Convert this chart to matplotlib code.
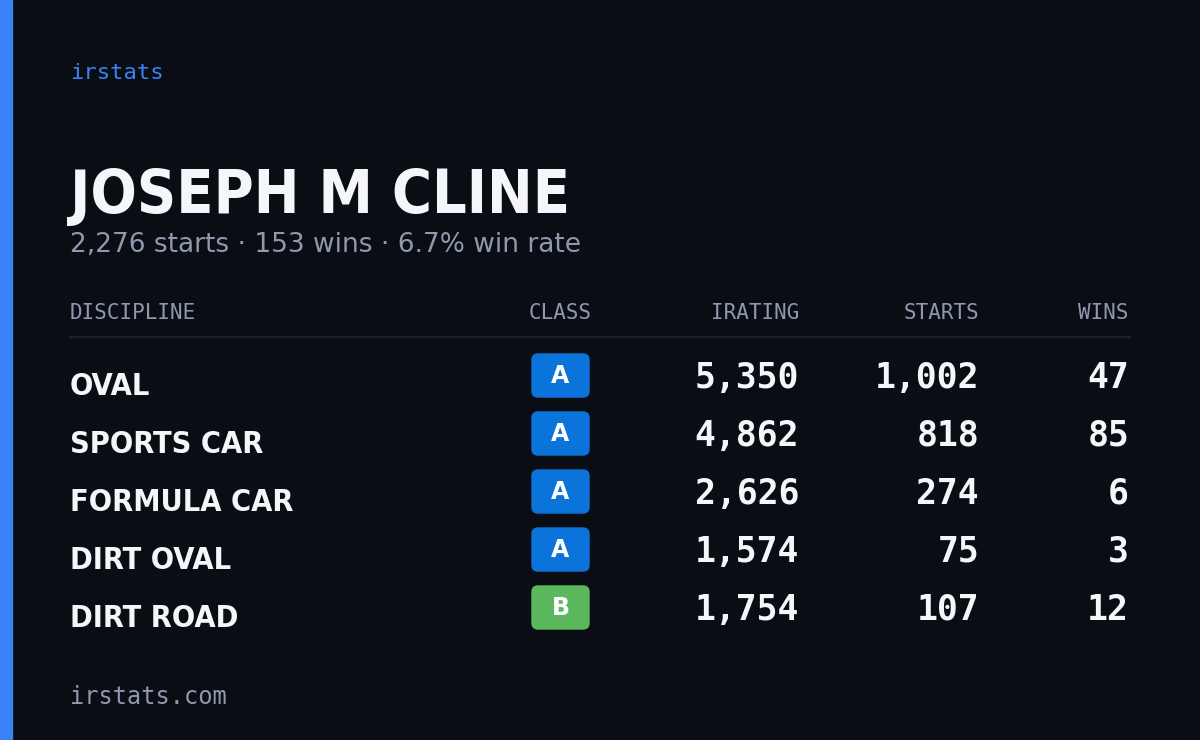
import matplotlib.pyplot as plt
from matplotlib.patches import FancyBboxPatch, Rectangle
from matplotlib import font_manager

disciplines = ["OVAL", "SPORTS CAR", "FORMULA CAR", "DIRT OVAL", "DIRT ROAD"]
classes = ["A", "A", "A", "A", "B"]
iratings = [5350, 4862, 2626, 1574, 1754]
starts = [1002, 818, 274, 75, 107]
wins = [47, 85, 6, 3, 12]
name = "JOSEPH M CLINE"
total_starts, total_wins = 2276, 153

# look for any condensed / narrow face that is installed
fonts = font_manager.fontManager.ttflist
cond = [f for f in fonts if ("Condensed" in f.name or "Narrow" in f.name or f.stretch in ("condensed", "semi-condensed", "extra-condensed"))]
narrow = cond[0].name if cond else "DejaVu Sans"
stretch = cond[0].stretch if cond else "normal"
mono = "DejaVu Sans Mono"

bg = "#0a0d14"
grey = "#8e99ad"
white = "#f4f6fa"
class_colors = {"A": "#0a74da", "B": "#5cb85c"}

fig = plt.figure(figsize=(12, 7.4), dpi=100, facecolor=bg)
ax = fig.add_axes([0, 0, 1, 1])
ax.set_xlim(0, 1200); ax.set_ylim(740, 0); ax.axis("off")
ax.set_facecolor(bg)
ax.add_patch(Rectangle((0, 0), 12, 740, color="#3b82f6"))

ax.text(70, 73, "irstats", family=mono, fontsize=16, color="#3b82f6", va="center")
t = ax.text(70, 213, name, family=narrow, stretch=stretch, fontsize=62, weight="bold", color=white, va="baseline")
ax.text(70, 245, f"{total_starts:,} starts · {total_wins} wins · {total_wins / total_starts * 100:.1f}% win rate",
        family="DejaVu Sans", fontsize=19, color=grey, va="center")

# shrink the title until it fits the reference width
fig.canvas.draw()
r = fig.canvas.get_renderer()
w = t.get_window_extent(r).width
if w > 505:
    t.set_fontsize(62 * 500 / w)

hy = 313
ax.text(70, hy, "DISCIPLINE", family=mono, fontsize=15, color=grey, va="center")
ax.text(560, hy, "CLASS", family=mono, fontsize=15, color=grey, va="center", ha="center")
cols = [799, 979, 1129]
for x, h in zip(cols, ["IRATING", "STARTS", "WINS"]):
    ax.text(x, hy, h, family=mono, fontsize=15, color=grey, va="center", ha="right")
ax.plot([70, 1130], [337, 337], color="#1c2130", lw=1.5)

for i, d in enumerate(disciplines):
    y = 378 + 58 * i
    dt = ax.text(70, y + 17, d, family=narrow, stretch=stretch, fontsize=22, weight="bold", color=white, va="baseline")
    ax.add_patch(FancyBboxPatch((532, y - 24), 57, 43, boxstyle="round,pad=0,rounding_size=6",
                                color=class_colors[classes[i]]))
    ax.text(560.5, y - 2, classes[i], family="DejaVu Sans", fontsize=17, weight="bold",
            color="white", ha="center", va="center")
    for x, v in zip(cols, [iratings[i], starts[i], wins[i]]):
        ax.text(x, y, f"{v:,}", family=mono, fontsize=25, weight="bold", color=white,
                ha="right", va="center")
    if not cond:
        dt.set_fontsize(19)

ax.text(70, 697, "irstats.com", family=mono, fontsize=17, color=grey, va="center")
fig.savefig("out.png", dpi=100, facecolor=bg)
